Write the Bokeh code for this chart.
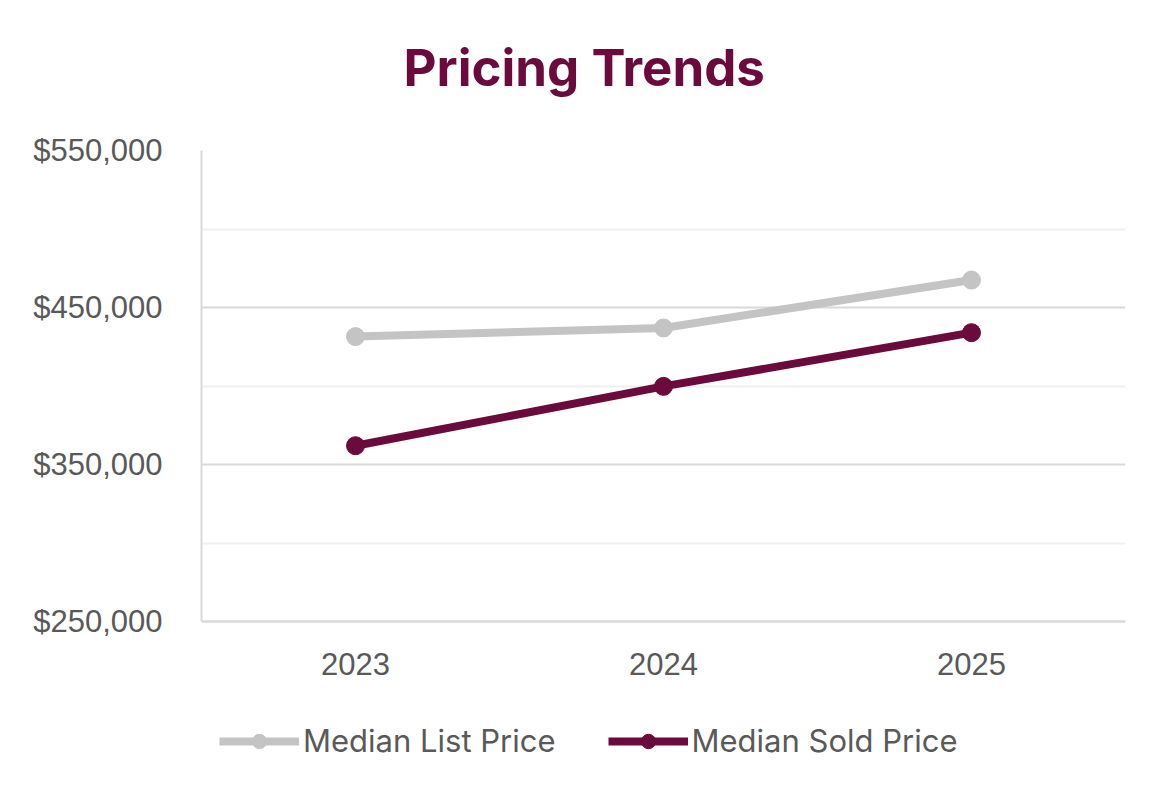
from bokeh.plotting import figure
from bokeh.models import FactorRange, Range1d, FixedTicker, NumeralTickFormatter, Legend, LegendItem, Title
from bokeh.embed import file_html
from bokeh.resources import INLINE

years = ["2023", "2024", "2025"]
list_price = [431500, 437000, 467500]
sold_price = [362000, 399800, 434000]
y_ticks = [250000, 350000, 450000, 550000]
y_minor = [300000, 400000, 500000]
y_bottom = 138000

MAROON = "#6b0a3c"
GRAY = "#c4c4c4"
TXT = "#595959"

p = figure(width=1166, height=797, x_range=FactorRange(*years), y_range=Range1d(y_bottom, 550000),
           output_backend="svg", toolbar_location=None,
           min_border_left=201, min_border_right=41, min_border_top=150, min_border_bottom=0)

# spacer between plot area and title (stacked next to the frame)
p.add_layout(Title(text=" ", text_font_size="10px", standoff=33), "above")

p.title.text = "Pricing Trends"
p.title.align = "left"
p.title.offset = 202
p.title.text_font = "Inter"
p.title.text_font_size = "51px"
p.title.text_font_style = "bold"
p.title.text_color = MAROON
p.title.standoff = 14

p.outline_line_color = None
p.xgrid.grid_line_color = None
p.ygrid.grid_line_color = "#d9d9d9"
p.ygrid.grid_line_width = 2
p.ygrid.minor_grid_line_color = "#f0f0f0"
p.ygrid.minor_grid_line_width = 2

p.yaxis.ticker = FixedTicker(ticks=y_ticks, minor_ticks=y_minor)
p.yaxis.formatter = NumeralTickFormatter(format="$0,0")
p.yaxis.bounds = (250000, 550000)
p.xaxis.fixed_location = 250000
for ax in (p.xaxis[0], p.yaxis[0]):
    ax.axis_line_color = "#d9d9d9"
    ax.axis_line_width = 2
    ax.major_tick_line_color = None
    ax.minor_tick_line_color = None
    ax.major_label_text_color = TXT
    ax.major_label_text_font = "Liberation Sans"
    ax.major_label_text_font_size = "31px"
p.yaxis.major_label_standoff = 33
p.xaxis.major_label_standoff = 25

r1l = p.line(years, list_price, line_color=GRAY, line_width=8)
r1c = p.scatter(years, list_price, size=18, fill_color=GRAY, line_color=GRAY)
r2l = p.line(years, sold_price, line_color=MAROON, line_width=8)
r2c = p.scatter(years, sold_price, size=18, fill_color=MAROON, line_color=MAROON)

legend = Legend(items=[LegendItem(label="Median List Price", renderers=[r1l, r1c]),
                       LegendItem(label="Median Sold Price", renderers=[r2l, r2c])],
                orientation="horizontal", location=(18, 38),
                glyph_width=80, glyph_height=36, label_standoff=4, spacing=52,
                label_text_font="Inter", label_text_font_size="31px", label_text_color=TXT,
                border_line_color=None, background_fill_alpha=0, padding=8, margin=0)
p.add_layout(legend, "center")

open("out.html", "w").write(file_html(p, INLINE))
